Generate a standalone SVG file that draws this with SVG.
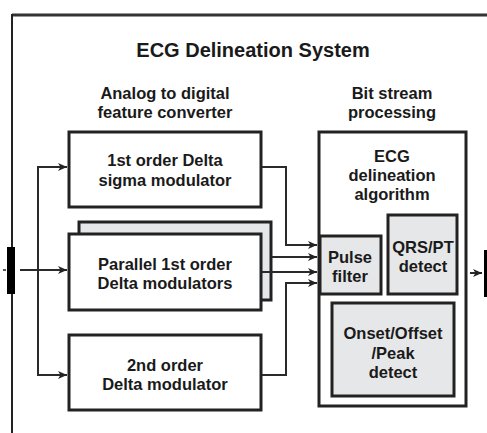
<svg xmlns="http://www.w3.org/2000/svg" width="487" height="433" viewBox="0 0 487 433">
  <defs>
    <marker id="arrow" markerWidth="10" markerHeight="10" refX="9" refY="5" orient="auto" markerUnits="userSpaceOnUse">
      <path d="M0,1 L9,5 L0,9 L2.5,5 Z" fill="#222"/>
    </marker>
    <style>
      .t { font-family: "Liberation Sans", Arial, sans-serif; font-weight: bold; fill: #1a1a1a; text-anchor: middle; }
      .title { font-size: 20px; }
      .head { font-size: 16.5px; }
      .lbl { font-size: 16.5px; }
      .box { fill: #fff; stroke: #222; stroke-width: 3; }
      .gbox { fill: #e6e7e9; stroke: #222; stroke-width: 3; }
      .wire { fill: none; stroke: #2a2a2a; stroke-width: 2; }
    </style>
  </defs>
  <rect width="487" height="433" fill="#fff"/>

  <!-- system frame -->
  <g id="frame">
    <line x1="12" y1="15" x2="487" y2="15" stroke="#333" stroke-width="3"/>
    <line x1="12" y1="14" x2="12" y2="433" stroke="#222" stroke-width="2"/>
  </g>

  <text class="t title" x="253" y="57">ECG Delineation System</text>
  <text class="t head" x="165" y="99">Analog to digital</text>
  <text class="t head" x="165" y="118">feature converter</text>
  <text class="t head" x="392" y="99">Bit stream</text>
  <text class="t head" x="392" y="118">processing</text>

  <!-- ECG input -->
  <g id="input">
    <rect x="7" y="247" width="8" height="47" fill="#000"/>
    <line x1="3" y1="270" x2="6" y2="270" stroke="#222" stroke-width="1.5"/>
  </g>

  <g id="dsm1">
    <rect class="box" x="69" y="132" width="192" height="75"/>
    <text class="t lbl" x="165" y="166">1st order Delta</text>
    <text class="t lbl" x="165" y="186">sigma modulator</text>
  </g>

  <g id="parallel">
    <rect class="gbox" x="79" y="222" width="192" height="78"/>
    <rect class="box" x="69" y="234" width="192" height="76"/>
    <text class="t lbl" x="165" y="270">Parallel 1st order</text>
    <text class="t lbl" x="165" y="289">Delta modulators</text>
  </g>

  <g id="dm2">
    <rect class="box" x="69" y="335" width="192" height="75"/>
    <text class="t lbl" x="165" y="371">2nd order</text>
    <text class="t lbl" x="165" y="390">Delta modulator</text>
  </g>

  <g id="algorithm">
    <rect class="box" x="319" y="132" width="147" height="274"/>
    <text class="t lbl" x="392" y="162">ECG</text>
    <text class="t lbl" x="392" y="181">delineation</text>
    <text class="t lbl" x="392" y="200">algorithm</text>
  </g>

  <g id="pulse">
    <rect class="gbox" x="320" y="236" width="61" height="58"/>
    <text class="t lbl" x="350" y="263">Pulse</text>
    <text class="t lbl" x="350" y="282">filter</text>
  </g>

  <g id="qrs">
    <rect class="gbox" x="388" y="215" width="69" height="79"/>
    <text class="t lbl" x="423" y="253">QRS/PT</text>
    <text class="t lbl" x="423" y="272">detect</text>
  </g>

  <g id="onset">
    <rect class="gbox" x="332" y="303" width="122" height="93"/>
    <text class="t lbl" x="393" y="339">Onset/Offset</text>
    <text class="t lbl" x="393" y="359">/Peak</text>
    <text class="t lbl" x="393" y="378">detect</text>
  </g>

  <g id="output">
    <rect x="484" y="250" width="5" height="47" fill="#000"/>
  </g>

  <g id="connectors">
    <line class="wire" x1="20" y1="270" x2="67" y2="270" marker-end="url(#arrow)"/>
    <path class="wire" d="M67,167 H38 V375 H67" marker-end="url(#arrow)"/>
    <line class="wire" x1="38" y1="167" x2="67" y2="167" marker-end="url(#arrow)"/>
    <path class="wire" d="M262,167 H286 V245 H317" marker-end="url(#arrow)"/>
    <line class="wire" x1="272" y1="257" x2="317" y2="257" marker-end="url(#arrow)"/>
    <line class="wire" x1="262" y1="272" x2="317" y2="272" marker-end="url(#arrow)"/>
    <path class="wire" d="M262,375 H286 V283 H317" marker-end="url(#arrow)"/>
    <line class="wire" x1="470" y1="273" x2="482" y2="273" marker-end="url(#arrow)"/>
  </g>
</svg>
